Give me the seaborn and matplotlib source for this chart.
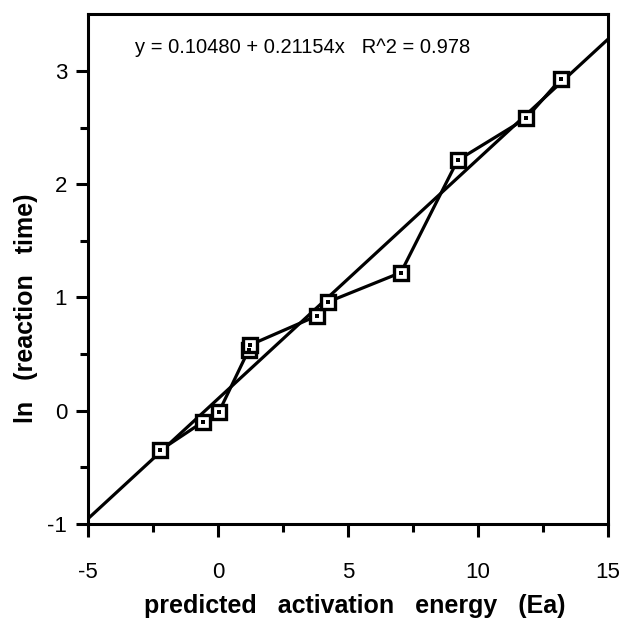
"""
ln(reaction time) vs predicted activation energy, with the fitted line.
"""

import numpy as np
import pandas as pd
import seaborn as sns
import matplotlib.pyplot as plt

# values
energy = [-2.23, -0.59, 0.04, 1.19, 1.23, 3.83, 4.23, 7.04, 9.22, 11.85, 13.2]
ln_time = [-0.35, -0.10, -0.01, 0.54, 0.58, 0.84, 0.96, 1.22, 2.21, 2.58, 2.93]

intercept = 0.10480
slope = 0.21154
r2 = 0.978

df = pd.DataFrame({"Ea": energy, "lnt": ln_time})

sns.set_style("ticks")
plt.rcParams["font.family"] = ["Liberation Sans", "DejaVu Sans"]
plt.rcParams["axes.unicode_minus"] = False
plt.rcParams["axes.edgecolor"] = "black"
plt.rcParams["xtick.color"] = "black"
plt.rcParams["ytick.color"] = "black"
plt.rcParams["text.color"] = "black"
plt.rcParams["axes.labelcolor"] = "black"

fig = plt.figure(figsize=(6.24, 6.18), dpi=100)
ax = fig.add_axes([0.141, 0.152, 0.833, 0.825])

# fitted line across the whole axis
ax.axline((0, intercept), slope=slope, color="black", lw=2.3, zorder=2)

# data, joined in order
sns.lineplot(data=df, x="Ea", y="lnt", sort=False, color="black", lw=2.3,
             marker="s", markersize=10, markerfacecolor="white",
             markeredgecolor="black", markeredgewidth=2.4, ax=ax, zorder=3)
sns.scatterplot(data=df, x="Ea", y="lnt", marker="s", s=6, color="black",
                linewidth=0, ax=ax, zorder=4)

ax.text(0.413, 0.935, f"y = {intercept:.5f} + {slope:.5f}x   R^2 = {r2}",
        transform=ax.transAxes, ha="center", va="center", fontsize=14.5)

ax.set_xlim(-5, 15)
ax.set_ylim(-1, 3.5)
ax.set_xticks([-5, 0, 5, 10, 15])
ax.set_xticks(np.arange(-2.5, 15, 5), minor=True)
ax.set_yticks([-1, 0, 1, 2, 3])
ax.set_yticks([-0.5, 0.5, 1.5, 2.5], minor=True)
ax.tick_params(which="major", length=9, width=2.2, labelsize=16, pad=6)
ax.tick_params(which="minor", length=5.5, width=2.2)
ax.tick_params(axis="x", which="major", pad=18)

for sp in ax.spines.values():
    sp.set_linewidth(2.2)
    sp.set_visible(True)

ax.set_xlabel("predicted   activation   energy   (Ea)", fontsize=18,
              fontweight="bold", va="center")
ax.set_ylabel("ln   (reaction   time)", fontsize=18, fontweight="bold",
              va="center")
ax.xaxis.set_label_coords(0.513, -0.161)
ax.yaxis.set_label_coords(-0.119, 0.424)

fig.savefig("out.png", dpi=100)
